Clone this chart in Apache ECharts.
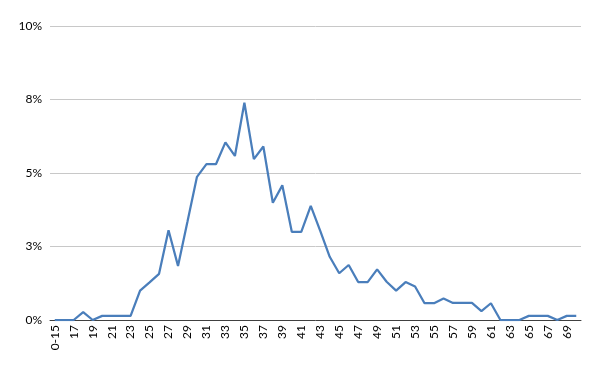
<!DOCTYPE html>
<html>
<head>
<meta charset="utf-8">
<script src="https://cdn.jsdelivr.net/npm/echarts@6/dist/echarts.min.js"></script>
<style>
    html, body { margin: 0; padding: 0; background: #fff; }
    #chart { width: 600px; height: 371px; }
</style>
</head>
<body>
<div id="chart"></div>
<script>
    // age categories: "0-15", then 16..70
    let ages = ['0-15'];
    for (let a = 16; a <= 70; a++) ages.push(String(a));

    // share of total, in percent
    let share = [
        0, 0, 0, 0.27, 0, 0.14, 0.14, 0.14, 0.14, 1.0,
        1.28, 1.57, 3.05, 1.84, 3.35, 4.87, 5.3, 5.3, 6.04, 5.58,
        7.39, 5.47, 5.9, 3.99, 4.58, 3.0, 3.0, 3.88, 3.03, 2.15,
        1.59, 1.87, 1.29, 1.29, 1.72, 1.3, 1.0, 1.29, 1.14, 0.57,
        0.57, 0.73, 0.58, 0.58, 0.58, 0.3, 0.57, 0, 0, 0,
        0.14, 0.14, 0.14, 0, 0.14, 0.14
    ];

    let yTicks = [0, 2.5, 5, 7.5, 10];

    let myChart = echarts.init(document.getElementById('chart'));

    let option = {
        animation: false,
        grid: { left: 50, right: 19, top: 26, bottom: 51 },
        xAxis: {
            type: 'category',
            data: ages,
            boundaryGap: true,
            axisLine: { lineStyle: { color: '#404040', width: 1 } },
            axisTick: { show: false },
            axisLabel: {
                interval: 1,
                rotate: 90,
                color: '#000',
                fontFamily: 'Lato',
                fontSize: 12,
                margin: 5
            }
        },
        yAxis: {
            type: 'value',
            min: yTicks[0],
            max: yTicks[yTicks.length - 1],
            interval: 2.5,
            axisLine: { show: false },
            axisTick: { show: false },
            splitLine: { lineStyle: { color: '#c8c8c8', width: 1 } },
            axisLabel: {
                color: '#000',
                fontFamily: 'Lato',
                fontSize: 12,
                margin: 8,
                formatter: v => Math.round(v) + '%'
            }
        },
        series: [{
            type: 'line',
            data: share,
            symbol: 'none',
            lineStyle: { color: '#4a7ebb', width: 2.25 }
        }]
    };

    myChart.setOption(option);
</script>
</body>
</html>
